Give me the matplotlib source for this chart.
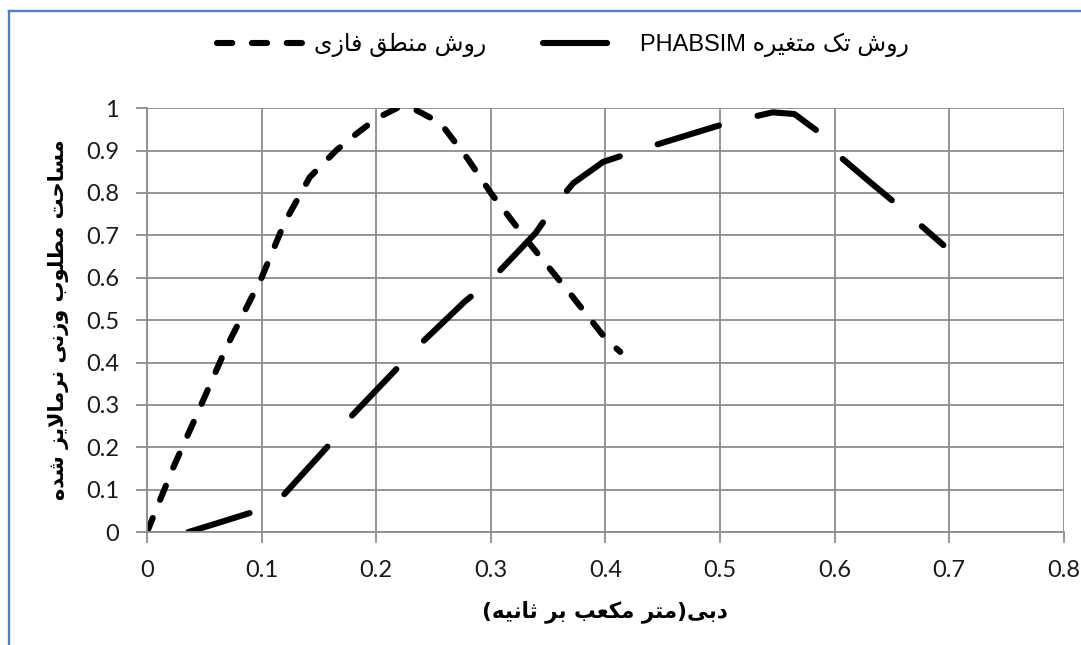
import numpy as np
import matplotlib as mpl
mpl.use('Agg')
import matplotlib.pyplot as plt
import matplotlib.lines as mlines

# Fuzzy logic method (short dashes)
fuzzy_q = [0.0, 0.023, 0.044, 0.07, 0.1, 0.12, 0.142, 0.165, 0.183, 0.2, 0.218, 0.235,
           0.256, 0.28, 0.30, 0.334, 0.37, 0.40, 0.413]
fuzzy_a = [0.0, 0.153, 0.28, 0.44, 0.60, 0.73, 0.837, 0.90, 0.94, 0.975, 1.0, 0.995,
           0.965, 0.88, 0.80, 0.68, 0.56, 0.457, 0.425]

# PHABSIM single variable method (long dashes)
phab_q = [0.036, 0.06, 0.092, 0.119, 0.157, 0.175, 0.215, 0.236, 0.277, 0.30, 0.339,
          0.356, 0.372, 0.398, 0.428, 0.481, 0.509, 0.546, 0.565, 0.59, 0.605, 0.629,
          0.653, 0.695]
phab_a = [0.0, 0.02, 0.047, 0.087, 0.20, 0.264, 0.377, 0.437, 0.543, 0.594, 0.705,
          0.771, 0.823, 0.873, 0.90, 0.944, 0.967, 0.99, 0.986, 0.936, 0.885, 0.83,
          0.776, 0.677]

xticks = np.arange(0, 0.81, 0.1)
yticks = np.arange(0, 1.01, 0.1)

# --- minimal Persian shaping (matplotlib draws glyphs left to right, no bidi) ---
FORMS = {
    '\u0627': ('\uFE8D', '\uFE8E', None, None),
    '\u0628': ('\uFE8F', '\uFE90', '\uFE91', '\uFE92'),
    '\u062A': ('\uFE95', '\uFE96', '\uFE97', '\uFE98'),
    '\u062B': ('\uFE99', '\uFE9A', '\uFE9B', '\uFE9C'),
    '\u062D': ('\uFEA1', '\uFEA2', '\uFEA3', '\uFEA4'),
    '\u062F': ('\uFEA9', '\uFEAA', None, None),
    '\u0631': ('\uFEAD', '\uFEAE', None, None),
    '\u0632': ('\uFEAF', '\uFEB0', None, None),
    '\u0633': ('\uFEB1', '\uFEB2', '\uFEB3', '\uFEB4'),
    '\u0634': ('\uFEB5', '\uFEB6', '\uFEB7', '\uFEB8'),
    '\u0637': ('\uFEC1', '\uFEC2', '\uFEC3', '\uFEC4'),
    '\u0639': ('\uFEC9', '\uFECA', '\uFECB', '\uFECC'),
    '\u063A': ('\uFECD', '\uFECE', '\uFECF', '\uFED0'),
    '\u0641': ('\uFED1', '\uFED2', '\uFED3', '\uFED4'),
    '\u0642': ('\uFED5', '\uFED6', '\uFED7', '\uFED8'),
    '\u06A9': ('\uFB8E', '\uFB8F', '\uFB90', '\uFB91'),
    '\u0644': ('\uFEDD', '\uFEDE', '\uFEDF', '\uFEE0'),
    '\u0645': ('\uFEE1', '\uFEE2', '\uFEE3', '\uFEE4'),
    '\u0646': ('\uFEE5', '\uFEE6', '\uFEE7', '\uFEE8'),
    '\u0647': ('\uFEE9', '\uFEEA', '\uFEEB', '\uFEEC'),
    '\u0648': ('\uFEED', '\uFEEE', None, None),
    '\u06CC': ('\uFBFC', '\uFBFD', '\uFBFE', '\uFBFF'),
}
MIRROR = {'(': ')', ')': '('}

def shape(text):
    out = []
    i = 0
    n = len(text)
    while i < n:
        c = text[i]
        if c not in FORMS:
            out.append(MIRROR.get(c, c))
            i += 1
            continue
        prev = text[i-1] if i > 0 else ''
        prev_joins = prev in FORMS and FORMS[prev][2] is not None
        # lam + alef ligature
        if c == '\u0644' and i + 1 < n and text[i+1] == '\u0627':
            out.append('\uFEFC' if prev_joins else '\uFEFB')
            i += 2
            continue
        nxt = text[i+1] if i + 1 < n else ''
        next_joins = nxt in FORMS and FORMS[c][2] is not None
        iso, fin, ini, med = FORMS[c]
        if prev_joins and next_joins:
            out.append(med)
        elif prev_joins:
            out.append(fin)
        elif next_joins:
            out.append(ini)
        else:
            out.append(iso)
        i += 1
    return ''.join(reversed(out))

lbl_fuzzy = shape('روش منطق فازی')
lbl_phab = 'PHABSIM ' + shape('روش تک متغیره')
ylab = shape('مساحت مطلوب وزنی نرمالایز شده')
xlab = shape('دبی(متر مکعب بر ثانیه)')

fig = plt.figure(figsize=(10.81, 6.45), dpi=100)
ax = fig.add_axes([0.136, 0.175, 0.848, 0.6574])

lw = 4.4
ax.plot(fuzzy_q, fuzzy_a, color='k', lw=lw, dashes=(2.5, 3.2),
        dash_capstyle='round', solid_capstyle='round', label=lbl_fuzzy)
ax.plot(phab_q, phab_a, color='k', lw=lw, dashes=(10.5, 6.5),
        dash_capstyle='round', solid_capstyle='round', label=lbl_phab)

ax.set_xlim(0, 0.8)
ax.set_ylim(0, 1)
ax.set_xticks(xticks)
ax.set_yticks(yticks)
ax.set_xticklabels(['0'] + ['{:.1f}'.format(v) for v in xticks[1:]])
ax.set_yticklabels(['0'] + ['{:.1f}'.format(v) for v in yticks[1:-1]] + ['1'])
ax.grid(True, color='#8c8c8c', lw=1.3)
ax.set_axisbelow(True)
for side in ['top', 'right']:
    ax.spines[side].set_visible(False)
for side in ['left', 'bottom']:
    ax.spines[side].set_color('#8c8c8c')
    ax.spines[side].set_linewidth(1.3)
ax.tick_params(length=8, width=1.3, color='#8c8c8c', direction='out', pad=12,
               labelsize=17, labelcolor='#1a1a1a')
for label in ax.get_xticklabels() + ax.get_yticklabels():
    label.set_family('Lato')

ax.set_ylabel(ylab, family=['DejaVu Sans'], fontweight='bold', fontsize=15, labelpad=12)
ax.set_xlabel(xlab, family=['DejaVu Sans'], fontweight='bold', fontsize=15.5, labelpad=14)

leg = ax.legend(loc='center', bbox_to_anchor=(0.521, 0.930), bbox_transform=fig.transFigure,
                ncol=2, frameon=False, handlelength=3.8, handletextpad=0.3,
                columnspacing=2.4,
                prop={'family': ['Liberation Sans', 'DejaVu Sans'], 'size': 17})

# chart area border (Excel style): only left and top edges are in the crop
border = '#4f81bd'
fig.add_artist(mlines.Line2D([8.5/1081, 8.5/1081], [0, 1 - 10.5/645],
                             transform=fig.transFigure, color=border, lw=1.7))
fig.add_artist(mlines.Line2D([8.5/1081, 1], [1 - 10.5/645, 1 - 10.5/645],
                             transform=fig.transFigure, color=border, lw=1.7))

fig.savefig('out.png', dpi=100)
